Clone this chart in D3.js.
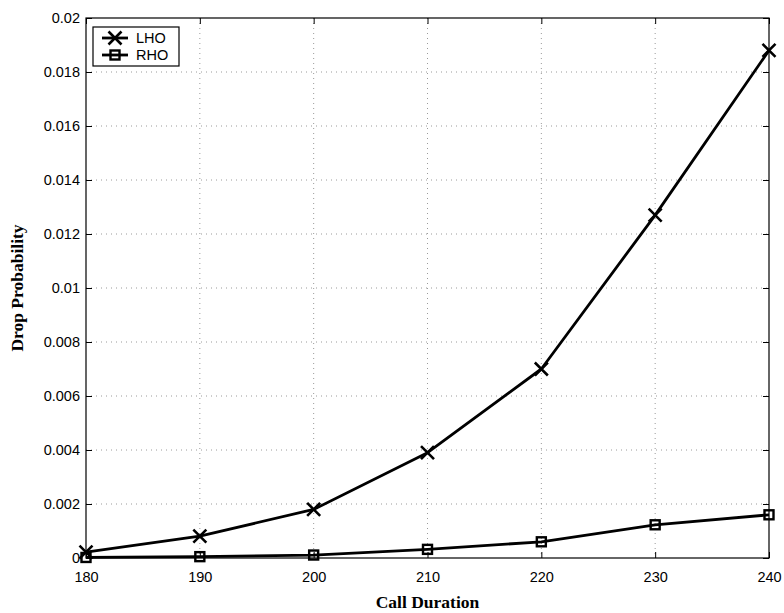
<!DOCTYPE html>
<html>
<head>
<meta charset="utf-8">
<script src="https://cdn.jsdelivr.net/npm/d3@7"></script>
<style>
  html, body { margin: 0; padding: 0; background: #fff; }
  svg { display: block; }
</style>
</head>
<body>
<svg id="chart" width="784" height="613"></svg>
<script>
// Call duration values on the x axis
const callDuration = [180, 190, 200, 210, 220, 230, 240];
// Drop probability for each handoff scheme
const lhoValues = [0.00022, 0.00081, 0.0018, 0.0039, 0.0070, 0.0127, 0.0188];
const rhoValues = [0.00002, 0.00005, 0.00011, 0.00032, 0.0006, 0.00123, 0.0016];
// Axis ticks and their labels
const xTicks = [180, 190, 200, 210, 220, 230, 240];
const yTicks = [0, 0.002, 0.004, 0.006, 0.008, 0.01, 0.012, 0.014, 0.016, 0.018, 0.02];
const yTickLabels = ["0", "0.002", "0.004", "0.006", "0.008", "0.01", "0.012", "0.014", "0.016", "0.018", "0.02"];
const seriesNames = ["LHO", "RHO"];

const svg = d3.select("#chart");
const plotLeft = 86, plotRight = 769, plotTop = 18, plotBottom = 558;

const x = d3.scaleLinear().domain([180, 240]).range([plotLeft, plotRight]);
const y = d3.scaleLinear().domain([0, 0.02]).range([plotBottom, plotTop]);

const tickFont = "Liberation Sans, Arial, Helvetica, sans-serif";
const titleFont = "Liberation Serif, Times New Roman, serif";

// Dotted grid
const grid = svg.append("g");
grid.selectAll("line.gx").data(xTicks.slice(1, -1)).join("line")
  .attr("x1", d => x(d)).attr("x2", d => x(d))
  .attr("y1", plotTop).attr("y2", plotBottom)
  .attr("stroke", "#9a9a9a").attr("stroke-width", 1)
  .attr("stroke-dasharray", "1,4");
grid.selectAll("line.gy").data(yTicks.slice(1, -1)).join("line")
  .attr("x1", plotLeft).attr("x2", plotRight)
  .attr("y1", d => y(d)).attr("y2", d => y(d))
  .attr("stroke", "#9a9a9a").attr("stroke-width", 1)
  .attr("stroke-dasharray", "1,4");

// Axes with inward ticks
const tickLen = 6;
const xAxis = d3.axisBottom(x).tickValues(xTicks).tickSize(-tickLen).tickPadding(14).tickFormat(d3.format("d"));
const yAxis = d3.axisLeft(y).tickValues(yTicks).tickSize(-tickLen).tickPadding(6)
  .tickFormat((d, i) => yTickLabels[i]);

const gx = svg.append("g").attr("transform", `translate(0,${plotBottom})`).call(xAxis);
const gy = svg.append("g").attr("transform", `translate(${plotLeft},0)`).call(yAxis);
const gxTop = svg.append("g").attr("transform", `translate(0,${plotTop})`)
  .call(d3.axisTop(x).tickValues(xTicks).tickSize(-tickLen).tickFormat(""));
const gyRight = svg.append("g").attr("transform", `translate(${plotRight},0)`)
  .call(d3.axisRight(y).tickValues(yTicks).tickSize(-tickLen).tickFormat(""));

[gx, gy, gxTop, gyRight].forEach(g => {
  g.select(".domain").remove();
  g.selectAll(".tick line").attr("stroke", "#000").attr("stroke-width", 1);
  g.selectAll("text").attr("font-family", tickFont).attr("font-size", 14.5).attr("fill", "#000");
});

// Plot frame
svg.append("rect")
  .attr("x", plotLeft).attr("y", plotTop)
  .attr("width", plotRight - plotLeft).attr("height", plotBottom - plotTop)
  .attr("fill", "none").attr("stroke", "#000").attr("stroke-width", 1.2);

// Axis titles
svg.append("text")
  .attr("x", (plotLeft + plotRight) / 2).attr("y", 608)
  .attr("text-anchor", "middle")
  .attr("font-family", titleFont)
  .attr("font-weight", "bold").attr("font-size", 17.5)
  .text("Call Duration");
svg.append("text")
  .attr("transform", `translate(23,${(plotTop + plotBottom) / 2}) rotate(-90)`)
  .attr("text-anchor", "middle")
  .attr("font-family", titleFont)
  .attr("font-weight", "bold").attr("font-size", 17.5)
  .text("Drop Probability");

// Series lines
const line = d3.line().x(d => x(d[0])).y(d => y(d[1]));
const lho = callDuration.map((c, i) => [c, lhoValues[i]]);
const rho = callDuration.map((c, i) => [c, rhoValues[i]]);

const plot = svg.append("g");
[rho, lho].forEach(data => {
  plot.append("path").datum(data).attr("d", line)
    .attr("fill", "none").attr("stroke", "#000").attr("stroke-width", 2.8)
    .attr("stroke-linejoin", "round");
});

function crossMarker(g, cx, cy) {
  const s = 6.5;
  g.append("path")
    .attr("d", `M${cx - s},${cy - s}L${cx + s},${cy + s}M${cx - s},${cy + s}L${cx + s},${cy - s}`)
    .attr("stroke", "#000").attr("stroke-width", 2.6).attr("fill", "none");
}
function squareMarker(g, cx, cy) {
  const s = 4.5;
  g.append("rect")
    .attr("x", cx - s).attr("y", cy - s).attr("width", 2 * s).attr("height", 2 * s)
    .attr("fill", "none").attr("stroke", "#000").attr("stroke-width", 2.4);
}

rho.forEach(d => squareMarker(plot, x(d[0]), y(d[1])));
lho.forEach(d => crossMarker(plot, x(d[0]), y(d[1])));

// Legend
const legend = svg.append("g");
legend.append("rect")
  .attr("x", 93).attr("y", 27).attr("width", 86).attr("height", 39)
  .attr("fill", "#fff").attr("stroke", "#000").attr("stroke-width", 1.2);
const legendRows = [38, 55];
seriesNames.forEach((name, i) => {
  const ly = legendRows[i];
  legend.append("line")
    .attr("x1", 102).attr("x2", 128).attr("y1", ly).attr("y2", ly)
    .attr("stroke", "#000").attr("stroke-width", 2.8);
  if (i === 0) crossMarker(legend, 115, ly); else squareMarker(legend, 115, ly);
  legend.append("text")
    .attr("x", 136).attr("y", ly + 5)
    .attr("font-family", tickFont).attr("font-size", 14.5)
    .text(name);
});
</script>
</body>
</html>
